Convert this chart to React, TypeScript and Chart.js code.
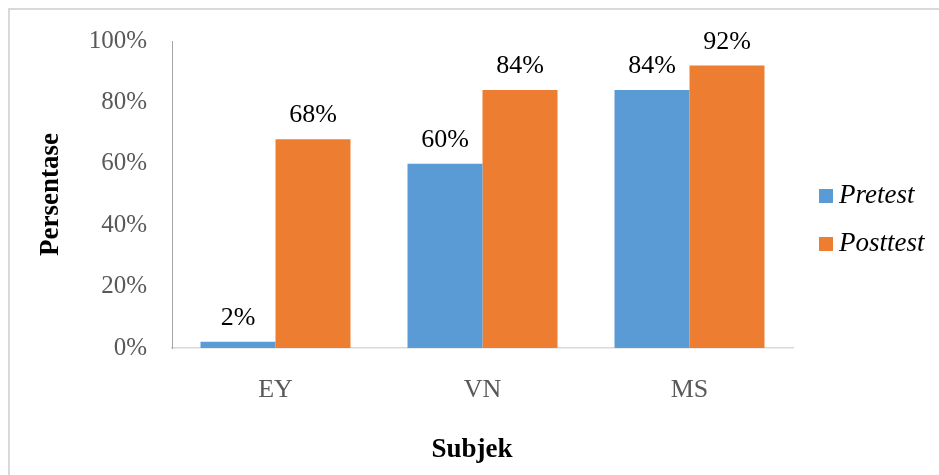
import React, { useEffect, useRef } from "react";
import { Chart, registerables } from "chart.js";

Chart.register(...registerables);

const categories = ["EY", "VN", "MS"];
const pretest = [2, 60, 84];
const posttest = [68, 84, 92];
const seriesNames = ["Pretest", "Posttest"];
const seriesColors = ["#5B9BD5", "#ED7D31"];
const yTicks = [0, 20, 40, 60, 80, 100];

const FONT = "'Liberation Serif', 'Times New Roman', serif";

const dataLabelPlugin = {
  id: "dataLabels",
  afterDatasetsDraw(chart: any) {
    const ctx = chart.ctx;
    ctx.save();
    ctx.font = `26px ${FONT}`;
    ctx.fillStyle = "#000000";
    ctx.textAlign = "center";
    ctx.textBaseline = "alphabetic";
    chart.data.datasets.forEach((ds: any, i: number) => {
      const meta = chart.getDatasetMeta(i);
      meta.data.forEach((bar: any, j: number) => {
        ctx.fillText(ds.data[j] + "%", bar.x, bar.y - 17);
      });
    });
    ctx.restore();
  },
};

const legendPlugin = {
  id: "customLegend",
  afterDraw(chart: any) {
    const ctx = chart.ctx;
    ctx.save();
    chart.data.datasets.forEach((ds: any, i: number) => {
      const cy = 196 + 48 * i;
      ctx.fillStyle = ds.backgroundColor;
      ctx.fillRect(819, cy - 7, 14, 14);
      ctx.fillStyle = "#000000";
      ctx.font = `italic 27px ${FONT}`;
      ctx.textAlign = "left";
      ctx.textBaseline = "middle";
      ctx.fillText(ds.label, 839, cy);
    });
    ctx.restore();
  },
};

const xTitlePlugin = {
  id: "xTitle",
  afterDraw(chart: any) {
    const ctx = chart.ctx;
    ctx.save();
    ctx.font = `bold 27px ${FONT}`;
    ctx.fillStyle = "#000000";
    ctx.textAlign = "center";
    ctx.textBaseline = "middle";
    ctx.fillText("Subjek", 472, 450);
    ctx.restore();
  },
};

export default function App() {
  const canvasRef = useRef<HTMLCanvasElement | null>(null);

  useEffect(() => {
    if (!canvasRef.current) return;
    const chart = new Chart(canvasRef.current, {
      type: "bar",
      data: {
        labels: categories,
        datasets: [
          {
            label: seriesNames[0],
            data: pretest,
            backgroundColor: seriesColors[0],
            categoryPercentage: 0.7246,
            barPercentage: 1,
          },
          {
            label: seriesNames[1],
            data: posttest,
            backgroundColor: seriesColors[1],
            categoryPercentage: 0.7246,
            barPercentage: 1,
          },
        ],
      },
      options: {
        animation: false,
        responsive: false,
        maintainAspectRatio: false,
        layout: { padding: { top: 41, right: 146, left: 0, bottom: 0 } },
        plugins: {
          legend: { display: false },
          tooltip: { enabled: false },
        },
        scales: {
          x: {
            grid: { display: false, drawTicks: false },
            border: { display: true, color: "#D9D9D9", width: 1.5 },
            ticks: {
              color: "#595959",
              font: { family: FONT, size: 26 },
              padding: 27,
            },
            title: { display: false },
            afterFit(scale: any) {
              scale.height = 127;
            },
          },
          y: {
            min: 0,
            max: 100,
            grid: { display: false, drawTicks: false },
            border: { display: true, color: "#A6A6A6", width: 1 },
            afterBuildTicks(scale: any) {
              scale.ticks = yTicks.map((v) => ({ value: v }));
            },
            ticks: {
              color: "#595959",
              font: { family: FONT, size: 25 },
              padding: 25,
              callback: (v: any) => v + "%",
            },
            title: {
              display: true,
              text: "Persentase",
              color: "#000000",
              font: { family: FONT, size: 27, weight: "bold" },
              padding: { top: 35, bottom: 0 },
            },
            afterFit(scale: any) {
              scale.width = 172;
            },
          },
        },
      },
      plugins: [dataLabelPlugin, legendPlugin, xTitlePlugin],
    });
    return () => chart.destroy();
  }, []);

  return (
    <div style={{ position: "fixed", left: 0, top: 0, width: 939, height: 475, background: "#ffffff" }}>
      <div
        style={{
          position: "absolute",
          left: 8,
          top: 8,
          width: 931,
          height: 467,
          borderTop: "2px solid #D9D9D9",
          borderLeft: "2px solid #D9D9D9",
          boxSizing: "border-box",
        }}
      />
      <canvas
        ref={canvasRef}
        width={939}
        height={475}
        style={{ position: "absolute", left: 0, top: 0, width: 939, height: 475 }}
      />
    </div>
  );
}
